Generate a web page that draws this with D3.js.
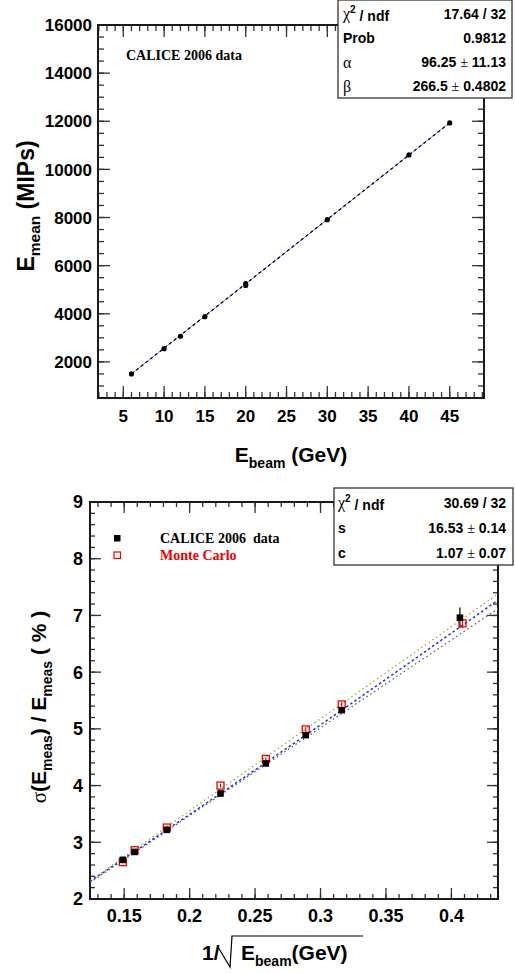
<!DOCTYPE html>
<html><head><meta charset="utf-8">
<script src="https://cdn.jsdelivr.net/npm/d3@7"></script>
<style>body{margin:0;background:#fff}svg{display:block}</style>
</head><body>
<svg id="c" width="515" height="973"></svg>
<script>
// ---------- top panel data ----------
const topEbeam = [6, 10, 12, 15, 20, 20, 30, 40, 45];
const topEmean = [1500, 2550, 3065, 3880, 5180, 5250, 7910, 10600, 11930];
const topFitX = [6, 45];
const topFitY = [1500, 11935];
const topXTicks = [5, 10, 15, 20, 25, 30, 35, 40, 45];
const topYTicks = [2000, 4000, 6000, 8000, 10000, 12000, 14000, 16000];
const topStatNames = ["ndf", "Prob", "α", "β"];
const topStatValues = ["17.64 / 32", "0.9812", "96.25 ± 11.13", "266.5 ± 0.4802"];

// ---------- bottom panel data ----------
const invSqrtE = [0.149, 0.158, 0.1826, 0.2236, 0.2582, 0.2887, 0.3162, 0.4065];
const invSqrtEmc = [0.149, 0.158, 0.1826, 0.2236, 0.2582, 0.2887, 0.3162, 0.4085];
const dataRes = [2.69, 2.83, 3.22, 3.86, 4.39, 4.89, 5.33, 6.96];
const dataErr = [0.03, 0.03, 0.03, 0.04, 0.04, 0.05, 0.05, 0.18];
const mcRes = [2.65, 2.86, 3.26, 4.00, 4.47, 4.99, 5.43, 6.86];
const mcErr = [0.02, 0.02, 0.03, 0.03, 0.03, 0.04, 0.04, 0.08];
const fitX = [0.1239, 0.28, 0.4356];
const fitY = [2.31, 4.75, 7.27];
const bandX = [0.1239, 0.4356];
const bandUpper = [2.32, 7.38];
const bandLower = [2.29, 7.12];
const botXTicks = [0.15, 0.2, 0.25, 0.3, 0.35, 0.4];
const botYTicks = [2, 3, 4, 5, 6, 7, 8, 9];
const botStatNames = ["ndf", "s", "c"];
const botStatValues = ["30.69 / 32", "16.53 ± 0.14", "1.07 ± 0.07"];
const legendLabels = ["CALICE 2006  data", "Monte Carlo"];

const SANS = "'Liberation Sans', Arial, Helvetica, sans-serif";
const SERIF = "'Liberation Serif', 'Times New Roman', serif";
const svg = d3.select("#c");

function range(a, b, s) { const r = []; for (let v = a; v <= b + 1e-9; v += s) r.push(+v.toFixed(6)); return r; }

function frameAxes(x, y, o) {
  const [x0, x1] = x.range(), [y0, y1] = y.range(); // y0 bottom, y1 top
  const g = svg.append("g");
  const tick = (vals, len, horiz) => {
    vals.forEach(v => {
      if (horiz) {
        const px = x(v); if (px < x0 - 0.5 || px > x1 + 0.5) return;
        g.append("line").attr("x1", px).attr("x2", px).attr("y1", y0).attr("y2", y0 - len).attr("stroke", "#333").attr("stroke-width", 1.3);
        g.append("line").attr("x1", px).attr("x2", px).attr("y1", y1).attr("y2", y1 + len).attr("stroke", "#333").attr("stroke-width", 1.3);
      } else {
        const py = y(v); if (py > y0 + 0.5 || py < y1 - 0.5) return;
        g.append("line").attr("y1", py).attr("y2", py).attr("x1", x0).attr("x2", x0 + len).attr("stroke", "#333").attr("stroke-width", 1.3);
        g.append("line").attr("y1", py).attr("y2", py).attr("x1", x1).attr("x2", x1 - len).attr("stroke", "#333").attr("stroke-width", 1.3);
      }
    });
  };
  tick(o.xMinor, o.minLen, true); tick(o.xMajor, o.majLen, true);
  tick(o.yMinor, o.minLen, false); tick(o.yMajor, o.majLen, false);
  g.append("rect").attr("x", x0).attr("y", y1).attr("width", x1 - x0).attr("height", y0 - y1)
    .attr("fill", "none").attr("stroke", "#1a1a1a").attr("stroke-width", 2);
  o.xMajor.forEach(v => g.append("text").attr("x", x(v)).attr("y", o.xLabY).attr("text-anchor", "middle")
    .attr("font-family", SANS).attr("font-weight", "bold").attr("font-size", o.fs).text(o.xFmt(v)));
  o.yMajor.forEach(v => g.append("text").attr("x", o.yLabX).attr("y", y(v)).attr("dy", "0.36em").attr("text-anchor", "end")
    .attr("font-family", SANS).attr("font-weight", "bold").attr("font-size", o.fs).text(o.yFmt(v)));
}

function statBox(x0, y0, w, h, rows, names, values, lx, rx) {
  const g = svg.append("g");
  g.append("rect").attr("x", x0).attr("y", y0).attr("width", w).attr("height", h)
    .attr("fill", "#fff").attr("stroke", "#333").attr("stroke-width", 1.3);
  names.forEach((n, i) => {
    const t = g.append("text").attr("x", lx).attr("y", rows[i]).attr("dy", "0.36em")
      .attr("font-family", SANS).attr("font-weight", "bold").attr("font-size", 14);
    if (n === "ndf") {
      t.append("tspan").attr("font-family", SERIF).attr("font-weight", "normal").attr("font-size", 16).text("χ");
      t.append("tspan").attr("font-size", 10).attr("dy", "-0.6em").text("2");
      t.append("tspan").attr("dy", "0.6em").text(" / ndf");
    } else if (n === "α" || n === "β") {
      t.attr("font-family", SERIF).attr("font-weight", "normal").attr("font-size", 16).text(n);
    } else t.text(n);
    const parts = values[i].split("±");
    const v = g.append("text").attr("x", rx).attr("y", rows[i]).attr("dy", "0.36em").attr("text-anchor", "end")
      .attr("font-family", SANS).attr("font-weight", "bold").attr("font-size", 14);
    if (parts.length === 2) {
      v.append("tspan").text(parts[0]);
      v.append("tspan").attr("font-family", SERIF).attr("font-weight", "normal").text("±");
      v.append("tspan").text(parts[1]);
    } else v.text(values[i]);
  });
}

// ================= TOP PANEL =================
const xT = d3.scaleLinear().domain([1.9, 49.2]).range([98, 484]);
const yT = d3.scaleLinear().domain([500, 16000]).range([398, 25]);
frameAxes(xT, yT, {
  xMajor: topXTicks, xMinor: range(2, 49, 1), yMajor: topYTicks, yMinor: range(500, 16000, 500),
  majLen: 12, minLen: 6, fs: 17, xLabY: 422, yLabX: 92, xFmt: d => d, yFmt: d => d
});
const topLine = d3.line().x((d, i) => xT(topFitX[i])).y((d, i) => yT(topFitY[i]));
svg.append("path").attr("d", topLine(topFitX)).attr("stroke", "#8888ff").attr("stroke-width", 1).attr("fill", "none");
svg.append("path").attr("d", topLine(topFitX)).attr("stroke", "#000").attr("stroke-width", 1.3)
  .attr("stroke-dasharray", "3,3").attr("fill", "none");
svg.append("g").selectAll("circle").data(topEbeam).join("circle")
  .attr("cx", (d) => xT(d)).attr("cy", (d, i) => yT(topEmean[i])).attr("r", 2.6).attr("fill", "#000");
svg.append("text").attr("x", 126).attr("y", 60).attr("font-family", SERIF).attr("font-weight", "bold")
  .attr("font-size", 14).text("CALICE 2006 data");
const tx = svg.append("text").attr("x", 291).attr("y", 462).attr("text-anchor", "middle")
  .attr("font-family", SANS).attr("font-weight", "bold").attr("font-size", 21);
tx.append("tspan").text("E");
tx.append("tspan").attr("font-size", 14).attr("dy", 6).text("beam");
tx.append("tspan").attr("dy", -6).text(" (GeV)");
const ty = svg.append("text").attr("transform", "translate(34,206) rotate(-90)").attr("text-anchor", "middle")
  .attr("font-family", SANS).attr("font-weight", "bold").attr("font-size", 23);
ty.append("tspan").text("E");
ty.append("tspan").attr("font-size", 15.5).attr("dy", 6).text("mean");
ty.append("tspan").attr("dy", -6).text(" (MIPs)");
statBox(338, 0, 174, 98, [14, 38, 62, 86], topStatNames, topStatValues, 343, 506);

// ================= BOTTOM PANEL =================
const xB = d3.scaleLinear().domain([0.1239, 0.4356]).range([90, 498]);
const yB = d3.scaleLinear().domain([2, 9]).range([899, 502]);
frameAxes(xB, yB, {
  xMajor: botXTicks, xMinor: range(0.13, 0.43, 0.01), yMajor: botYTicks, yMinor: range(2, 9, 0.2),
  majLen: 11, minLen: 5, fs: 18, xLabY: 922, yLabX: 83, xFmt: d => String(d), yFmt: d => d
});
svg.append("defs").append("clipPath").attr("id", "clipB").append("rect")
  .attr("x", 90).attr("y", 502).attr("width", 408).attr("height", 397);
const gl = svg.append("g").attr("clip-path", "url(#clipB)");
const bandLine = (ys) => d3.line().x((d, i) => xB(bandX[i])).y((d, i) => yB(ys[i]))(bandX);
gl.append("path").attr("d", bandLine(bandUpper)).attr("fill", "none").attr("stroke", "#a89a30").attr("stroke-width", 1.2).attr("stroke-dasharray", "1.5,3");
gl.append("path").attr("d", bandLine(bandLower)).attr("fill", "none").attr("stroke", "#555").attr("stroke-width", 1.2).attr("stroke-dasharray", "1.5,3");
gl.append("path").attr("d", d3.line().curve(d3.curveMonotoneX).x((d, i) => xB(fitX[i])).y((d, i) => yB(fitY[i]))(fitX))
  .attr("fill", "none").attr("stroke", "#2233dd").attr("stroke-width", 1.5).attr("stroke-dasharray", "2.5,2.5");
const gp = svg.append("g");
invSqrtE.forEach((v, i) => {
  gp.append("line").attr("x1", xB(v)).attr("x2", xB(v)).attr("y1", yB(dataRes[i] - dataErr[i])).attr("y2", yB(dataRes[i] + dataErr[i]))
    .attr("stroke", "#000").attr("stroke-width", 1.2);
});
invSqrtEmc.forEach((v, i) => {
  gp.append("line").attr("x1", xB(v)).attr("x2", xB(v)).attr("y1", yB(mcRes[i] - mcErr[i])).attr("y2", yB(mcRes[i] + mcErr[i]))
    .attr("stroke", "#e00").attr("stroke-width", 1.2);
});
gp.selectAll("rect.mc").data(invSqrtEmc).join("rect").attr("class", "mc")
  .attr("x", d => xB(d) - 3.5).attr("y", (d, i) => yB(mcRes[i]) - 3.5).attr("width", 7).attr("height", 7)
  .attr("fill", "none").attr("stroke", "#ee0000").attr("stroke-width", 1.3);
gp.selectAll("rect.dt").data(invSqrtE).join("rect").attr("class", "dt")
  .attr("x", d => xB(d) - 3.3).attr("y", (d, i) => yB(dataRes[i]) - 3.3).attr("width", 6.6).attr("height", 6.6)
  .attr("fill", "#000");
svg.append("rect").attr("x", 114).attr("y", 535).attr("width", 6.5).attr("height", 6.5).attr("fill", "#000");
svg.append("rect").attr("x", 114).attr("y", 552).attr("width", 6.5).attr("height", 6.5).attr("fill", "none").attr("stroke", "#ee0000").attr("stroke-width", 1.2);
svg.append("text").attr("x", 160).attr("y", 543).attr("font-family", SERIF).attr("font-weight", "bold").attr("font-size", 14)
  .style("white-space", "pre").text(legendLabels[0]);
svg.append("text").attr("x", 160).attr("y", 560).attr("font-family", SERIF).attr("font-weight", "bold").attr("font-size", 14)
  .attr("fill", "#ee0000").text(legendLabels[1]);
const bx = svg.append("g").attr("font-family", SANS).attr("font-weight", "bold");
bx.append("text").attr("x", 202).attr("y", 960).attr("font-size", 21).text("1/");
bx.append("path").attr("d", "M218,947 L230,967 L232,936 L363,936").attr("fill", "none").attr("stroke", "#000").attr("stroke-width", 1.2);
const bt = bx.append("text").attr("x", 241).attr("y", 960).attr("font-size", 21);
bt.append("tspan").text("E");
bt.append("tspan").attr("font-size", 14).attr("dy", 6).text("beam");
bt.append("tspan").attr("dy", -6).text("(GeV)");
const byl = svg.append("text").attr("transform", "translate(46,707) rotate(-90)").attr("text-anchor", "middle")
  .attr("font-family", SANS).attr("font-weight", "bold").attr("font-size", 21);
byl.append("tspan").attr("font-family", SERIF).attr("font-weight", "normal").text("σ");
byl.append("tspan").text("(E");
byl.append("tspan").attr("font-size", 14).attr("dy", 6).text("meas");
byl.append("tspan").attr("dy", -6).style("white-space", "pre").text(") / E");
byl.append("tspan").attr("font-size", 14).attr("dy", 6).text("meas");
byl.append("tspan").attr("dy", -6).style("white-space", "pre").text(" ( % )");
statBox(334, 488, 179, 77, [503, 528, 553], botStatNames, botStatValues, 338, 506);
</script>
</body></html>
